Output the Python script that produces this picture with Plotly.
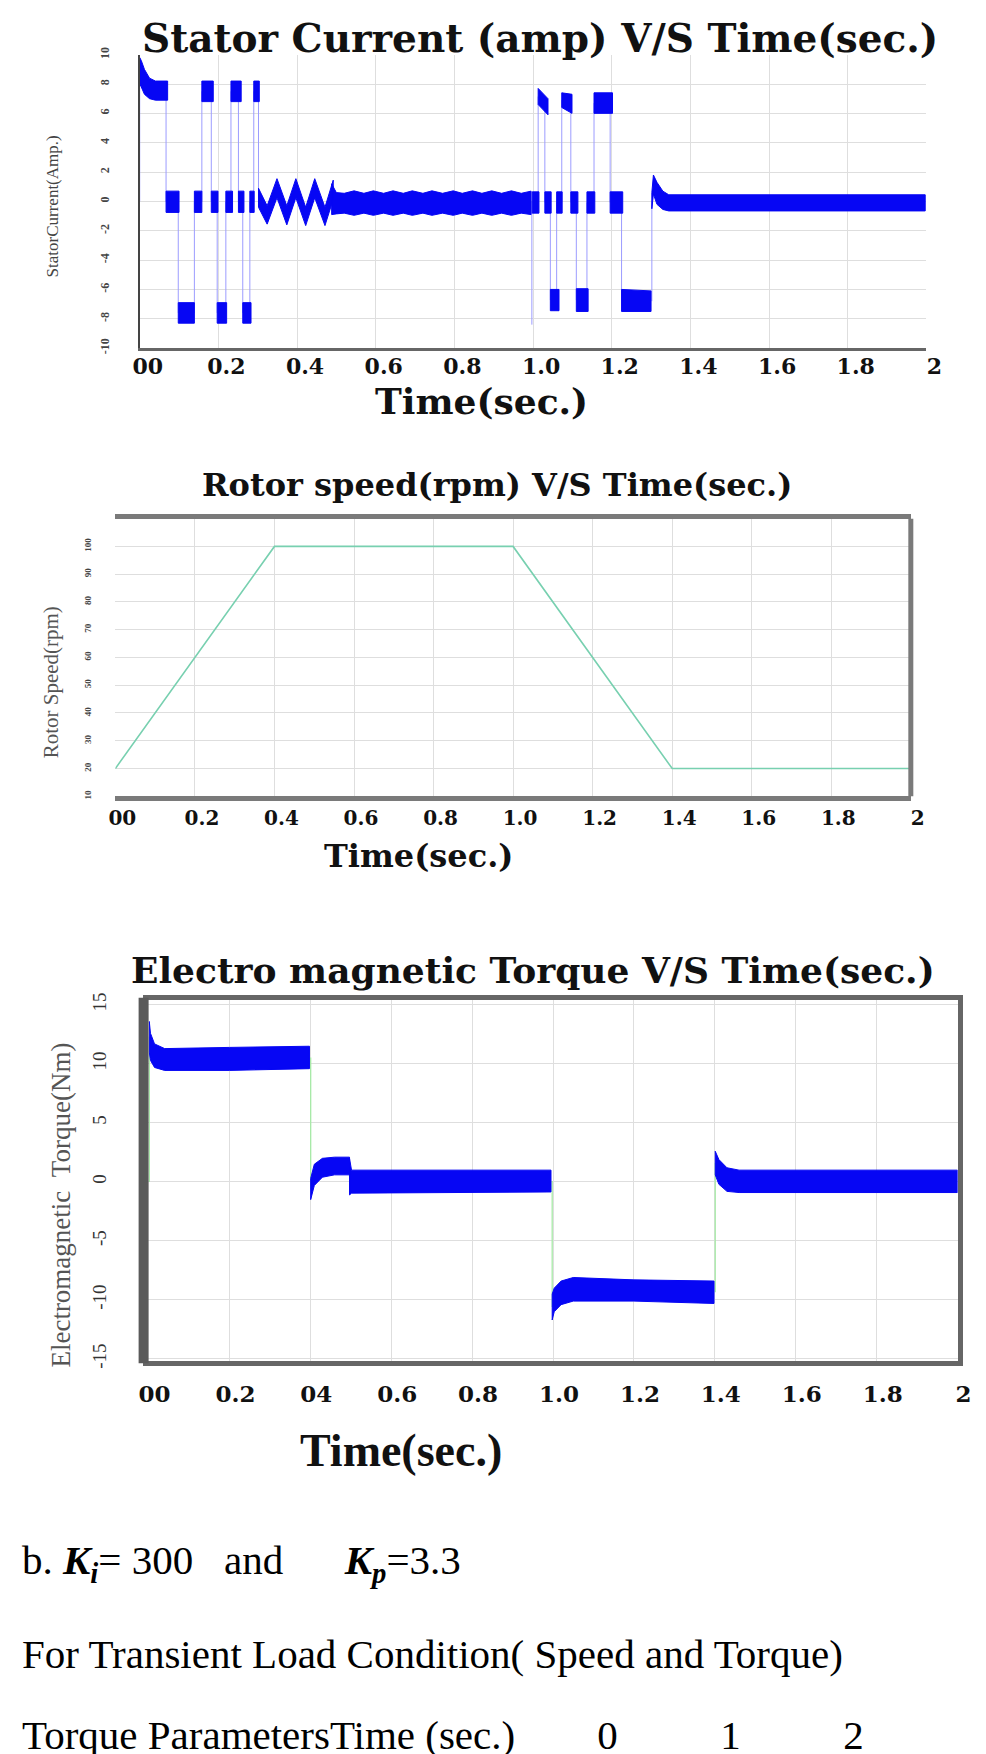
import plotly.graph_objects as go

W, H = 986, 1754
PAGE_PAD = 8  # default body margin of the html page
NB = "\u00a0"

# ---------------- data ----------------
x_ticks = [0, 0.2, 0.4, 0.6, 0.8, 1.0, 1.2, 1.4, 1.6, 1.8, 2.0]
x_labels = ["00", "0.2", "0.4", "0.6", "0.8", "1.0", "1.2", "1.4", "1.6", "1.8", "2"]
x_labels_tq = ["00", "0.2", "04", "0.6", "0.8", "1.0", "1.2", "1.4", "1.6", "1.8", "2"]

# stator current (Amp) - ripple envelopes (time, upper edge, lower edge)
sc_start_t = [0.0, 0.004, 0.012, 0.025, 0.040, 0.071]
sc_start_hi = [9.8, 9.6, 9.0, 8.4, 8.2, 8.2]
sc_start_lo = [8.0, 7.8, 7.3, 7.0, 6.9, 6.9]

sc_zig_t = [0.302, 0.324, 0.349, 0.374, 0.397, 0.422, 0.445, 0.471, 0.492]
sc_zig_hi = [0.9, -0.3, 1.55, -0.3, 1.55, -0.4, 1.55, -0.4, 1.45]
sc_zig_lo = [-0.4, -1.55, 0.25, -1.6, 0.25, -1.65, 0.25, -1.65, 0.15]

sc_ss1_t = [0.488, 0.500, 0.520, 0.545, 0.570, 0.594, 0.620, 0.644, 0.670, 0.693, 0.720,
            0.743, 0.770, 0.797, 0.820, 0.846, 0.870, 0.895, 0.920, 0.945, 0.970, 0.995]
sc_ss1_hi = [1.2, 0.6, 0.55, 0.72, 0.55, 0.72, 0.55, 0.72, 0.55, 0.72, 0.55,
             0.72, 0.55, 0.72, 0.55, 0.72, 0.55, 0.72, 0.55, 0.72, 0.55, 0.7]
sc_ss1_lo = [-0.9, -0.85, -0.8, -0.95, -0.8, -0.95, -0.8, -0.95, -0.8, -0.95, -0.8,
             -0.95, -0.8, -0.95, -0.8, -0.95, -0.8, -0.95, -0.8, -0.95, -0.8, -0.9]

sc_ss2_t = [1.302, 1.306, 1.315, 1.330, 1.345, 1.400, 1.600, 1.800, 1.997]
sc_ss2_hi = [0.6, 1.8, 1.3, 0.7, 0.45, 0.45, 0.45, 0.45, 0.45]
sc_ss2_lo = [-0.5, 0.5, -0.2, -0.55, -0.65, -0.65, -0.65, -0.65, -0.65]

# switching blocks (start, end, upper edge at start/end, lower edge at start/end)
sc_blk_t0 = [0.067, 0.098, 0.139, 0.158, 0.182, 0.197, 0.219, 0.232, 0.251, 0.262, 0.280, 0.290,
             0.998, 1.013, 1.030, 1.044, 1.060, 1.073, 1.096, 1.110, 1.137, 1.155, 1.196, 1.225]
sc_blk_t1 = [0.100, 0.139, 0.158, 0.187, 0.199, 0.221, 0.236, 0.258, 0.265, 0.283, 0.291, 0.304,
             1.015, 1.038, 1.046, 1.066, 1.074, 1.099, 1.114, 1.140, 1.157, 1.202, 1.228, 1.300]
sc_blk_hi0 = [0.7, -6.9, 0.7, 8.2, 0.7, -6.9, 0.7, 8.2, 0.7, -6.9, 0.7, 8.2,
              0.65, 7.7, 0.65, -6.0, 0.65, 7.4, 0.65, -5.95, 0.65, 7.4, 0.65, -6.0]
sc_blk_hi1 = [0.7, -6.9, 0.7, 8.2, 0.7, -6.9, 0.7, 8.2, 0.7, -6.9, 0.7, 8.2,
              0.65, 7.0, 0.65, -6.0, 0.65, 7.3, 0.65, -5.95, 0.65, 7.4, 0.65, -6.1]
sc_blk_lo0 = [-0.75, -8.3, -0.75, 6.8, -0.75, -8.3, -0.75, 6.8, -0.75, -8.3, -0.75, 6.8,
              -0.8, 6.6, -0.8, -7.45, -0.8, 6.4, -0.8, -7.5, -0.8, 6.0, -0.8, -7.5]
sc_blk_lo1 = [-0.75, -8.3, -0.75, 6.8, -0.75, -8.3, -0.75, 6.8, -0.75, -8.3, -0.75, 6.8,
              -0.8, 5.9, -0.8, -7.45, -0.8, 6.0, -0.8, -7.5, -0.8, 6.0, -0.8, -7.5]
# narrow spike at the speed reversal
sc_spike_t = [0.997]
sc_spike_from = [0.0]
sc_spike_to = [-8.4]

# rotor speed (rpm)
speed_t = [0.0, 0.4, 1.0, 1.4, 2.0]
speed_rpm = [20, 100, 100, 20, 20]
speed_ticks = [10, 20, 30, 40, 50, 60, 70, 80, 90, 100]

# electromagnetic torque (Nm)
tq_s1_t = [0.002, 0.005, 0.015, 0.040, 0.200, 0.398]
tq_s1_hi = [13.6, 12.6, 11.7, 11.3, 11.4, 11.5]
tq_s1_lo = [11.0, 10.3, 9.7, 9.45, 9.45, 9.6]
tq_s2_t = [0.401, 0.410, 0.430, 0.460, 0.497]
tq_s2_hi = [0.3, 1.5, 2.0, 2.1, 2.1]
tq_s2_lo = [-1.5, -0.3, 0.4, 0.6, 0.6]
tq_s3_t = [0.497, 0.502, 0.995]
tq_s3_hi = [2.0, 1.0, 1.0]
tq_s3_lo = [-1.1, -0.95, -0.85]
tq_s4_t = [0.998, 1.003, 1.020, 1.050, 1.200, 1.398]
tq_s4_hi = [-9.5, -9.0, -8.4, -8.1, -8.3, -8.4]
tq_s4_lo = [-11.7, -11.0, -10.4, -10.1, -10.1, -10.3]
tq_s5_t = [1.401, 1.410, 1.430, 1.460, 2.000]
tq_s5_hi = [2.6, 1.9, 1.2, 1.0, 1.0]
tq_s5_lo = [0.6, -0.2, -0.8, -0.9, -0.9]

ki_value = 300
kp_value = 3.3
torque_param_times = [0, 1, 2]


# ---------------- helpers ----------------
def px_x(p):
    return (p - PAGE_PAD) / W


def px_y(p):
    return 1 - (p - PAGE_PAD) / H


def bands(sections, start_level=0.0):
    """polygons for the ripple bands + thin vertical switching lines"""
    bx, by, sx, sy = [], [], [], []
    prev = start_level
    for t, hi, lo in sorted(sections, key=lambda s: s[0][0]):
        bx += list(t) + list(t[::-1]) + [t[0], None]
        by += list(hi) + list(lo[::-1]) + [hi[0], None]
        sx += [t[0], t[0], None]
        sy += [prev, (hi[0] + lo[0]) / 2, None]
        prev = (hi[-1] + lo[-1]) / 2
    return bx, by, sx, sy


sc_sections = [
    (sc_start_t, sc_start_hi, sc_start_lo),
    (sc_zig_t, sc_zig_hi, sc_zig_lo),
    (sc_ss1_t, sc_ss1_hi, sc_ss1_lo),
    (sc_ss2_t, sc_ss2_hi, sc_ss2_lo),
]
for i in range(len(sc_blk_t0)):
    sc_sections.append(([sc_blk_t0[i], sc_blk_t1[i]],
                        [sc_blk_hi0[i], sc_blk_hi1[i]],
                        [sc_blk_lo0[i], sc_blk_lo1[i]]))
sc_bx, sc_by, sc_sx, sc_sy = bands(sc_sections)
for t, a, b in zip(sc_spike_t, sc_spike_from, sc_spike_to):
    sc_sx += [t, t, None]
    sc_sy += [a, b, None]

tq_sections = [
    (tq_s1_t, tq_s1_hi, tq_s1_lo),
    (tq_s2_t, tq_s2_hi, tq_s2_lo),
    (tq_s3_t, tq_s3_hi, tq_s3_lo),
    (tq_s4_t, tq_s4_hi, tq_s4_lo),
    (tq_s5_t, tq_s5_hi, tq_s5_lo),
]
tq_bx, tq_by, tq_sx, tq_sy = bands(tq_sections)

BLUE = "#0606f4"
SERIF_B = dict(family="DejaVu Serif", color="#111", weight="bold")
TIMES = "Liberation Serif"

fig = go.Figure()

# stator current
fig.add_trace(go.Scatter(x=sc_sx, y=sc_sy, mode="lines",
                         line=dict(color="#9c9cff", width=1), xaxis="x", yaxis="y"))
fig.add_trace(go.Scatter(x=sc_bx, y=sc_by, mode="lines", fill="toself", fillcolor=BLUE,
                         line=dict(color=BLUE, width=1), xaxis="x", yaxis="y"))
# rotor speed
fig.add_trace(go.Scatter(x=speed_t, y=speed_rpm, mode="lines",
                         line=dict(color="#78d0b0", width=1.6), xaxis="x2", yaxis="y2"))
# torque
fig.add_trace(go.Scatter(x=tq_sx, y=tq_sy, mode="lines",
                         line=dict(color="#a6eaa6", width=1.3), xaxis="x3", yaxis="y3"))
fig.add_trace(go.Scatter(x=tq_bx, y=tq_by, mode="lines", fill="toself", fillcolor=BLUE,
                         line=dict(color=BLUE, width=1), xaxis="x3", yaxis="y3"))

GRID = "#dedede"


def xaxis(dom, anchor, labels, size, shift, standoff, **kw):
    d = dict(domain=[px_x(dom[0]), px_x(dom[1])], range=[0, 2], anchor=anchor,
             tickvals=x_ticks, ticktext=labels, ticks="",
             tickfont=dict(family="DejaVu Serif", size=size, color="#111", weight="bold"),
             ticklabelshift=shift, ticklabelstandoff=standoff,
             showgrid=True, gridcolor=GRID, gridwidth=1, zeroline=False, fixedrange=True)
    d.update(kw)
    return d


def yaxis(dom, anchor, rng, vals, labels, font, standoff, **kw):
    d = dict(domain=[px_y(dom[1]), px_y(dom[0])], range=rng, anchor=anchor,
             tickvals=vals, ticktext=labels, tickangle=-90, ticks="",
             tickfont=font, ticklabelstandoff=standoff,
             showgrid=True, gridcolor=GRID, gridwidth=1, zeroline=False, fixedrange=True)
    d.update(kw)
    return d


sc_ticks = [-10, -8, -6, -4, -2, 0, 2, 4, 6, 8, 10]
tq_ticks = [-15, -10, -5, 0, 5, 10, 15]

fig.update_layout(
    width=W, height=H, margin=dict(l=0, r=0, t=0, b=0),
    paper_bgcolor="white", plot_bgcolor="white", showlegend=False,
    xaxis=xaxis((133, 941), "y", x_labels, 22, 8, -4,
                showline=True, linecolor="#666", linewidth=3),
    yaxis=yaxis((47, 343), "x", [-10, 10], sc_ticks, [str(v) for v in sc_ticks],
                dict(family=TIMES, size=12, color="#444", weight="bold"), 24,
                showline=True, linecolor="#444", linewidth=2),
    xaxis2=xaxis((108, 925), "y2", x_labels, 20, 7, 0,
                 showline=True, mirror=True, linecolor="#7a7a7a", linewidth=5),
    yaxis2=yaxis((515, 795), "x2", [10, 110], speed_ticks, [str(v) for v in speed_ticks],
                 dict(family=TIMES, size=9, color="#444", weight="bold"), 22),
    xaxis3=xaxis((142, 973), "y3", x_labels_tq, 23, 6, 8,
                 showline=True, mirror=True, linecolor="#666", linewidth=5),
    yaxis3=yaxis((1000, 1365), "x3", [-15.21, 15.46], tq_ticks, [str(v) for v in tq_ticks],
                 dict(family=TIMES, size=19, color="#333"), 30,
                 showline=True, mirror=True, linecolor="#666", linewidth=5),
)

fig.add_shape(type="line", xref="x2 domain", yref="y2 domain", x0=1, x1=1, y0=0, y1=1,
              line=dict(color="#7a7a7a", width=5))
fig.add_shape(type="line", xref="x3 domain", yref="y3 domain", x0=-0.006, x1=-0.006,
              y0=-0.005, y1=1.005, line=dict(color="#5a5a5a", width=10))


def note(text, x, y, font, angle=0, xanchor="center", yanchor="middle"):
    fig.add_annotation(text=text, x=px_x(x), y=px_y(y), xref="paper", yref="paper",
                       showarrow=False, font=font, textangle=angle,
                       xanchor=xanchor, yanchor=yanchor)


# chart titles
note("Stator Current (amp) V/S Time(sec.)", 544, 30, dict(SERIF_B, size=39))
note("Rotor speed(rpm) V/S Time(sec.)", 500, 481, dict(SERIF_B, size=32))
note("Electro magnetic Torque V/S Time(sec.)", 537, 970, dict(SERIF_B, size=36))
# axis titles
note("Time(sec.)", 484, 396, dict(SERIF_B, size=36))
note("Time(sec.)", 419, 855, dict(SERIF_B, size=32))
note("Time(sec.)", 401, 1455, dict(family=TIMES, size=46, color="#111", weight="bold"))
note("StatorCurrent(Amp.)", 43, 200, dict(family=TIMES, size=17, color="#444"), angle=-90)
note("Rotor Speed(rpm)", 42, 680, dict(family=TIMES, size=21, color="#555"), angle=-90)
note("Electromagnetic" + NB * 2 + "Torque(Nm)", 52, 1207,
     dict(family=TIMES, size=27, color="#555"), angle=-90)

# text underneath the figure
body = dict(family=TIMES, size=41, color="#000")
note("b. <b><i>K</i></b><sub><b><i>i</i></b></sub>= " + str(ki_value) + NB * 3 + "and" + NB * 6
     + "<b><i>K</i></b><sub><b><i>p</i></b></sub>=" + str(kp_value),
     10, 1540, body, xanchor="left", yanchor="top")
note("For Transient Load Condition( Speed and Torque)", 10, 1635, body,
     xanchor="left", yanchor="top")
note("Torque ParametersTime (sec.)" + NB * 8 + (NB * 10).join(str(v) for v in torque_param_times),
     10, 1717, body, xanchor="left", yanchor="top")

fig.write_html("out.html")
